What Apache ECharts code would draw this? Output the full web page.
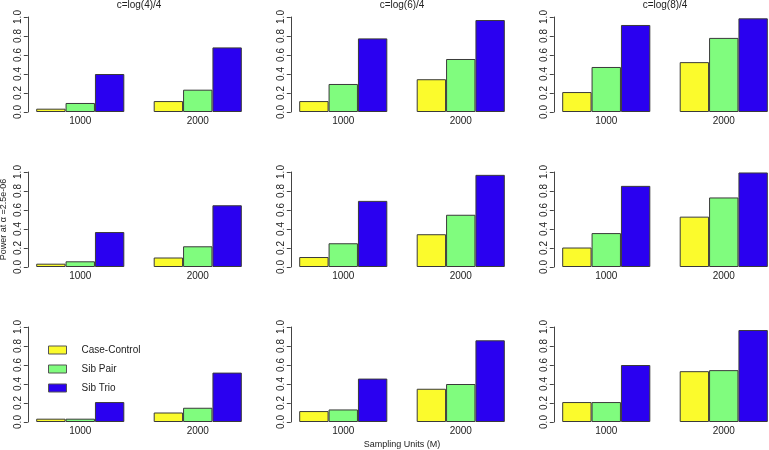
<!DOCTYPE html>
<html>
<head>
<meta charset="utf-8">
<script src="https://cdn.jsdelivr.net/npm/echarts@6/dist/echarts.min.js"></script>
<style>
html,body{margin:0;padding:0;background:#fff;}
#chart{width:769px;height:450px;}
</style>
</head>
<body>
<div id="chart"></div>
<script>
// ---- data ----
const categories = ['1000', '2000'];
const seriesNames = ['Case-Control', 'Sib Pair', 'Sib Trio'];
const columnTitles = ['c=log(4)/4', 'c=log(6)/4', 'c=log(8)/4'];
const yTicks = [0, 0.2, 0.4, 0.6, 0.8, 1.0];
const yAxisTitle = 'Power at \u03b1 =2.5e-06';
const xAxisTitle = 'Sampling Units (M)';
// panels in reading order: row1 (c1,c2,c3), row2, row3 ; each [M=1000, M=2000]
const caseControl = [
  [0.035, 0.115], [0.115, 0.345], [0.21, 0.525],
  [0.035, 0.10],  [0.105, 0.345], [0.205, 0.53],
  [0.035, 0.10],  [0.115, 0.35],  [0.21, 0.535]
];
const sibPair = [
  [0.095, 0.235], [0.295, 0.558], [0.474, 0.78],
  [0.06, 0.218],  [0.25, 0.55],   [0.357, 0.732],
  [0.035, 0.15],  [0.132, 0.40],  [0.21, 0.546]
];
const sibTrio = [
  [0.40, 0.68],   [0.775, 0.968], [0.916, 0.986],
  [0.368, 0.65],  [0.696, 0.97],  [0.854, 0.995],
  [0.21, 0.52],   [0.457, 0.86],  [0.60, 0.968]
];
const seriesData = [caseControl, sibPair, sibTrio];

// ---- style / layout ----
const FONT = 'Liberation Sans, Arial, Helvetica, sans-serif';
const colors = ['#FBFB2C', '#80FC7E', '#2A00F0'];
const borderCol = '#3a3a3a';
const textCol = '#222';
const colLeft = [21.5, 284.5, 547.5];   // grid left (category band start)
const gridWidth = 235;
const axisOffset = -6.3;                // y axis sits slightly inside
const rowTop = [17, 172, 327];
const gridHeight = 95;

const grids = [], xAxes = [], yAxes = [], series = [];
for (let r = 0; r < 3; r++) {
  for (let c = 0; c < 3; c++) {
    const i = r * 3 + c;
    grids.push({left: colLeft[c], top: rowTop[r], width: gridWidth, height: gridHeight,
                containLabel: false, outerBoundsMode: 'none'});
    const xa = {
      type: 'category', gridIndex: i, data: categories,
      axisLine: {show: false}, axisTick: {show: false},
      axisLabel: {fontSize: 10, color: textCol, fontFamily: FONT, margin: 4},
      splitLine: {show: false}
    };
    if (i === 7) {
      xa.name = xAxisTitle; xa.nameLocation = 'middle'; xa.nameGap = 18;
      xa.nameTextStyle = {fontSize: 9, color: textCol, fontFamily: FONT};
    }
    xAxes.push(xa);
    const ya = {
      type: 'value', gridIndex: i, min: yTicks[0], max: yTicks[yTicks.length - 1],
      interval: yTicks[1] - yTicks[0], offset: axisOffset,
      axisLine: {show: true, lineStyle: {color: '#444', width: 1}},
      axisTick: {show: true, length: 4, lineStyle: {color: '#444'}},
      axisLabel: {fontSize: 10, color: textCol, fontFamily: FONT, rotate: 90, margin: 5,
                  formatter: v => v.toFixed(1)},
      splitLine: {show: false}
    };
    if (i === 3) {
      ya.name = yAxisTitle; ya.nameLocation = 'middle'; ya.nameGap = 20; ya.nameRotate = 90;
      ya.nameTextStyle = {fontSize: 9, color: textCol, fontFamily: FONT};
    }
    yAxes.push(ya);
    for (let s = 0; s < 3; s++) {
      series.push({
        name: seriesNames[s], type: 'bar', xAxisIndex: i, yAxisIndex: i,
        data: seriesData[s][i], barGap: '0%', barCategoryGap: '25%',
        itemStyle: {color: colors[s], borderColor: borderCol, borderWidth: 1},
        emphasis: {disabled: true}, animation: false
      });
    }
  }
}

const graphics = columnTitles.map((t, c) => ({
  type: 'text', x: colLeft[c] + gridWidth / 2, y: 5,
  style: {text: t, fill: textCol, font: '10px ' + FONT, textAlign: 'center', textVerticalAlign: 'middle'}
}));

const chart = echarts.init(document.getElementById('chart'));
chart.setOption({
  backgroundColor: '#ffffff',
  animation: false,
  textStyle: {fontFamily: FONT},
  grid: grids, xAxis: xAxes, yAxis: yAxes, series: series,
  legend: {
    data: seriesNames, orient: 'vertical', left: 43, top: 340,
    itemWidth: 18, itemHeight: 8, itemGap: 9,
    icon: 'rect',
    itemStyle: {borderWidth: 1, borderColor: '#555'},
    textStyle: {fontSize: 10, color: textCol, fontFamily: FONT, padding: [0, 0, 0, 10]},
    selectedMode: false
  },
  graphic: graphics
});
</script>
</body>
</html>
